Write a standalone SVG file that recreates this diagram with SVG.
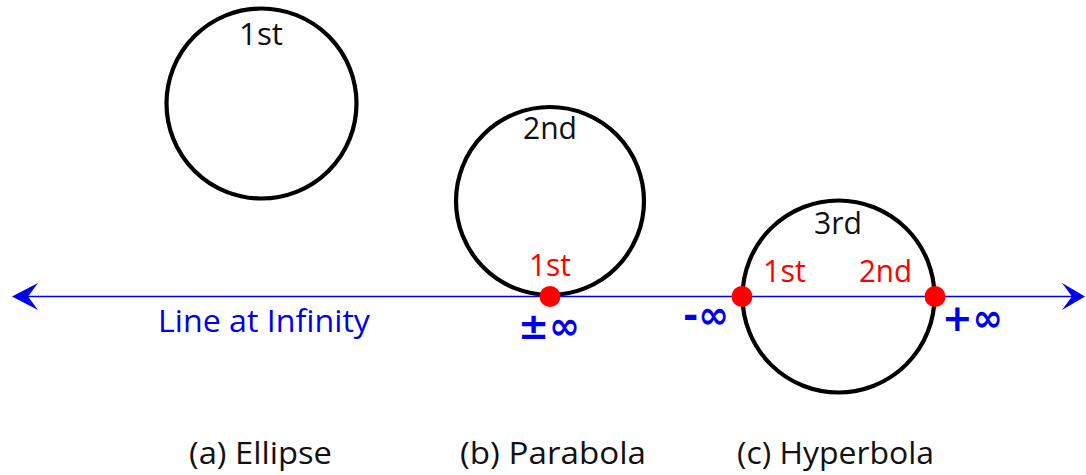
<svg xmlns="http://www.w3.org/2000/svg" width="1086" height="475" viewBox="0 0 1086 475">
<style>
.c{fill:none;stroke:#000;stroke-width:4.2}
.t{font-family:"Open Sans","Liberation Sans",sans-serif;font-size:31px}
.k{fill:#111}
.r{fill:#f00}
.b{fill:#0000f0}
.inf{font-family:"DejaVu Sans","Liberation Sans",sans-serif;font-weight:bold;font-size:38px;fill:#0000f0}
.dot{fill:#f00}
</style>
<rect width="1086" height="475" fill="#fff"/>
<g id="connectors">
<line x1="24" y1="296.5" x2="1072" y2="296.5" stroke="#0000f0" stroke-width="1.6"/>
<path d="M12,296.5 L38,283 L28,296.5 L38,310 Z" fill="#0000f0"/>
<path d="M1085,296.5 L1062,283 L1072,296.5 L1062,310 Z" fill="#0000f0"/>
</g>
<g id="ellipse">
<circle class="c" cx="261.5" cy="103.5" r="95"/>
<text class="t k" x="261" y="45" text-anchor="middle" textLength="44" lengthAdjust="spacingAndGlyphs">1st</text>
<text class="t k" x="260.5" y="464" text-anchor="middle" textLength="143" lengthAdjust="spacingAndGlyphs">(a) Ellipse</text>
</g>
<g id="parabola">
<circle class="c" cx="550" cy="201" r="94"/>
<text class="t k" x="550" y="139" text-anchor="middle" textLength="54" lengthAdjust="spacingAndGlyphs">2nd</text>
<text class="t r" x="550" y="276" text-anchor="middle" textLength="42" lengthAdjust="spacingAndGlyphs">1st</text>
<circle class="dot" cx="550" cy="296.5" r="10.5"/>
<text class="inf" x="549" y="339" text-anchor="middle" textLength="62" lengthAdjust="spacingAndGlyphs">±∞</text>
<text class="t k" x="553" y="464" text-anchor="middle" textLength="186" lengthAdjust="spacingAndGlyphs">(b) Parabola</text>
</g>
<g id="hyperbola">
<circle class="c" cx="838.5" cy="296.5" r="96"/>
<text class="t k" x="838" y="234" text-anchor="middle" textLength="48" lengthAdjust="spacingAndGlyphs">3rd</text>
<text class="t r" x="784.5" y="282" text-anchor="middle" textLength="43" lengthAdjust="spacingAndGlyphs">1st</text>
<text class="t r" x="885.5" y="282" text-anchor="middle" textLength="53" lengthAdjust="spacingAndGlyphs">2nd</text>
<circle class="dot" cx="742" cy="296.5" r="10.5"/>
<circle class="dot" cx="935" cy="296.5" r="10.5"/>
<text class="inf" x="706" y="328" text-anchor="middle" textLength="46" lengthAdjust="spacingAndGlyphs">-∞</text>
<text class="inf" x="972.5" y="331" text-anchor="middle" textLength="61" lengthAdjust="spacingAndGlyphs">+∞</text>
<text class="t k" x="835.5" y="464" text-anchor="middle" textLength="197" lengthAdjust="spacingAndGlyphs">(c) Hyperbola</text>
</g>
<g id="line-label">
<text class="t b" x="264" y="332" text-anchor="middle" textLength="212" lengthAdjust="spacingAndGlyphs">Line at Infinity</text>
</g>
</svg>
